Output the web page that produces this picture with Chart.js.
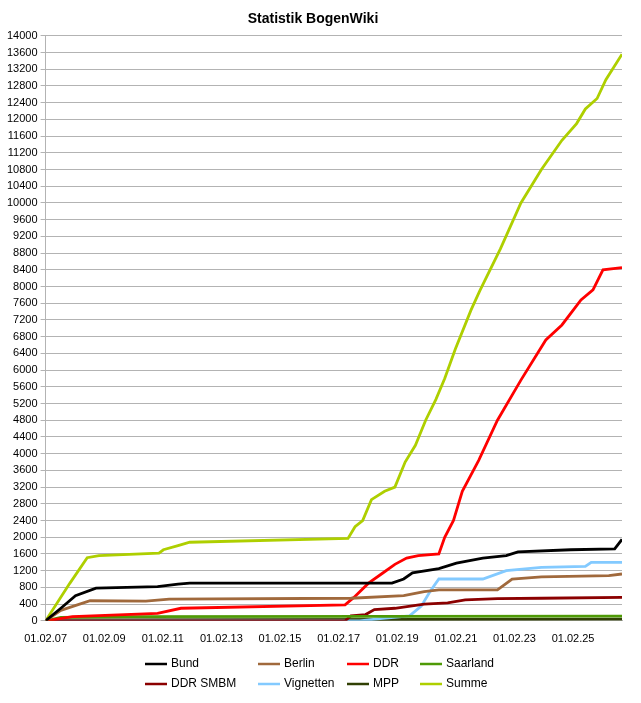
<!DOCTYPE html>
<html><head><meta charset="utf-8">
<script src="https://cdn.jsdelivr.net/npm/chart.js@4"></script>
<style>html,body{margin:0;background:#fff}#w{width:641px;height:703px}</style>
</head><body><div id="w"><canvas id="c"></canvas></div>
<script>
const seriesNames = ["Bund","Berlin","DDR","Saarland","DDR SMBM","Vignetten","MPP","Summe"];
const seriesColors = ["#000000","#a0693c","#ff0000","#4e9a06","#8b0000","#83caff","#314004","#aecf00"];
const bundX = [2007.08,2007.6,2008.1,2008.8,2010.9,2011.6,2012,2018.9,2019.3,2019.6,2020.5,2021.1,2022,2022.8,2023.2,2025,2026.5,2026.75];
const bundY = [0,300,600,780,820,880,900,900,1000,1150,1250,1380,1500,1560,1650,1700,1720,1950];
const berlinX = [2007.08,2007.6,2008.6,2010.5,2011.3,2017.5,2019.3,2020,2020.5,2022.5,2023,2024,2026.3,2026.75];
const berlinY = [0,250,480,470,520,540,600,700,740,740,1000,1050,1080,1120];
const ddrX = [2007.08,2008,2010.9,2011.7,2017.3,2017.6,2018.1,2018.6,2019.0,2019.4,2019.8,2020.5,2020.7,2021.0,2021.3,2021.86,2022.5,2023.3,2024.15,2024.7,2025.35,2025.76,2026.1,2026.75];
const ddrY = [0,100,180,300,380,560,900,1150,1350,1500,1560,1600,2000,2400,3100,3840,4800,5760,6720,7080,7680,7920,8400,8450];
const saarX = [2007.08,2007.6,2010,2026.75];
const saarY = [0,80,100,110];
const smbmX = [2007.08,2017.3,2017.5,2018,2018.3,2019,2020,2020.8,2021.4,2022.5,2024,2026.75];
const smbmY = [0,0,120,150,270,300,400,430,500,530,540,560];
const vigX = [2007.08,2017.8,2018.5,2019.5,2019.9,2020.2,2020.5,2022,2022.8,2024,2025.5,2025.7,2026.75];
const vigY = [0,0,50,120,350,700,1000,1000,1200,1280,1300,1400,1400];
const mppX = [2007.08,2007.5,2026.75];
const mppY = [0,20,40];
const summeX = [2007.08,2007.9,2008.5,2008.9,2010.95,2011.1,2011.6,2012,2017.4,2017.64,2017.9,2018.2,2018.65,2019,2019.35,2019.7,2020.05,2020.4,2020.7,2021.06,2021.6,2021.9,2022.6,2023.3,2024,2024.7,2025.2,2025.5,2025.9,2026.2,2026.75];
const summeY = [0,890,1510,1560,1620,1700,1800,1880,1970,2250,2400,2900,3100,3200,3800,4200,4800,5300,5800,6500,7440,7900,8900,10000,10800,11500,11900,12250,12500,12950,13560];
const xs=[bundX,berlinX,ddrX,saarX,smbmX,vigX,mppX,summeX];
const ys=[bundY,berlinY,ddrY,saarY,smbmY,vigY,mppY,summeY];
const datasets = seriesNames.map((n,i)=>({label:n,data:xs[i].map((x,j)=>({x,y:ys[i][j]})),borderColor:seriesColors[i],backgroundColor:seriesColors[i],borderWidth:2.8,pointRadius:0,tension:0}));
const FONT="'Liberation Sans', Arial, sans-serif";
Chart.defaults.font.family=FONT;
Chart.defaults.color="#000";
const gridLegend={id:'gridLegend',afterDraw(chart){
  const ctx=chart.ctx;const colX=[145,258,347,420];const rowY=[664,684];
  ctx.save();ctx.font='12px '+FONT;ctx.textBaseline='middle';
  chart.data.datasets.forEach((d,i)=>{const x=colX[i%4],y=rowY[Math.floor(i/4)];
    ctx.strokeStyle=d.borderColor;ctx.lineWidth=2.5;ctx.beginPath();ctx.moveTo(x,y);ctx.lineTo(x+22,y);ctx.stroke();
    ctx.fillStyle='#000';ctx.fillText(d.label,x+26,y);});
  ctx.restore();}};
new Chart(document.getElementById('c'),{type:'line',data:{datasets},plugins:[gridLegend],options:{
 responsive:true,maintainAspectRatio:false,animation:false,
 layout:{padding:{left:4,right:19,top:7,bottom:53}},
 plugins:{legend:{display:false},title:{display:true,text:'Statistik BogenWiki',font:{size:14,weight:'bold'},padding:{top:4,bottom:8}}},
 scales:{x:{type:'linear',min:2007.08,max:2026.75,afterBuildTicks:ax=>{ax.ticks=[];for(let y=2007.08;y<2026;y+=2)ax.ticks.push({value:y});},
   ticks:{autoSkip:false,maxRotation:0,font:{size:11},padding:4,callback:v=>'01.02.'+String(Math.round(v-0.08)%100).padStart(2,'0')},
   grid:{display:false},border:{color:'#b3b3b3'}},
  y:{min:0,max:14000,ticks:{stepSize:400,autoSkip:false,font:{size:11},callback:v=>String(v)},grid:{color:'#b3b3b3',tickLength:5},border:{color:'#b3b3b3'}}}
}});
</script></body></html>
